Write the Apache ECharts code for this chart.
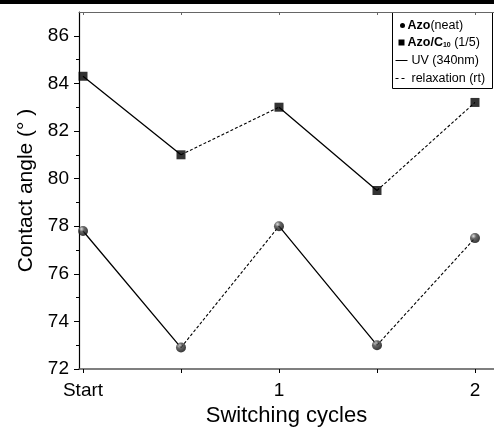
<!DOCTYPE html>
<html><head><meta charset="utf-8">
<script src="https://cdn.jsdelivr.net/npm/echarts@6/dist/echarts.min.js"></script>
<style>html,body{margin:0;padding:0;background:#fff}#c{width:494px;height:432px}</style>
</head><body><div id="c"></div>
<script>
const cycles = [0, 0.5, 1, 1.5, 2];
const xTickLabels = {0: 'Start', 1: '1', 2: '2'};
const azoNeat = [77.8, 72.9, 78.0, 73.0, 77.5];
const azoC10 = [84.3, 81.0, 83.0, 79.5, 83.2];
const yMajor = [72, 74, 76, 78, 80, 82, 84, 86];
const yMinor = [73, 75, 77, 79, 81, 83, 85];

function seg(vals, pairs) {
  const out = [];
  pairs.forEach((p, k) => {
    if (k > 0) out.push('-');
    out.push([cycles[p[0]], vals[p[0]]], [cycles[p[1]], vals[p[1]]]);
  });
  return out;
}
const solidPairs = [[0, 1], [2, 3]];
const dashPairs = [[1, 2], [3, 4]];

const font = 'Liberation Sans, Arial, sans-serif';
const sphere = {
  type: 'radial', x: 0.35, y: 0.3, r: 0.75,
  colorStops: [{offset: 0, color: '#d8d8d8'}, {offset: 0.35, color: '#444'}, {offset: 1, color: '#000'}]
};

const chart = echarts.init(document.getElementById('c'), null, {renderer: 'canvas'});
const lineStyleSolid = {color: '#000', width: 1.3, type: 'solid'};
const lineStyleDash = {color: '#000', width: 1.1, type: [3, 2]};

chart.setOption({
  animation: false,
  grid: {left: 79, top: 12, right: 0, bottom: 60},
  xAxis: [{
    type: 'value', min: -0.0204, max: 2.097,
    axisLine: {show: true, onZero: false, lineStyle: {color: '#555', width: 1.5}},
    axisTick: {show: true, inside: false, length: 4, customValues: cycles, lineStyle: {color: '#000'}},
    axisLabel: {show: true, customValues: [0, 1, 2], formatter: v => xTickLabels[Math.round(v)] || '',
      color: '#000', fontSize: 19, fontFamily: font, margin: 12},
    splitLine: {show: false},
    name: 'Switching cycles', nameLocation: 'middle', nameGap: 36,
    nameTextStyle: {color: '#000', fontSize: 22, fontFamily: font}
  }, {
    type: 'value', position: 'top', min: -0.0204, max: 2.097,
    axisLine: {show: true, onZero: false, lineStyle: {color: '#666', width: 1}},
    axisTick: {show: true, inside: true, length: 3, customValues: cycles, lineStyle: {color: '#666'}},
    axisLabel: {show: false}, splitLine: {show: false}
  }],
  yAxis: [{
    type: 'value', min: 72, max: 87,
    axisLine: {show: true, onZero: false, lineStyle: {color: '#000', width: 1.2}},
    axisTick: {show: true, length: 5, customValues: yMajor, lineStyle: {color: '#000'}},
    axisLabel: {show: true, customValues: yMajor, color: '#000', fontSize: 19, fontFamily: font, margin: 10},
    splitLine: {show: false},
    name: 'Contact angle (° )', nameLocation: 'middle', nameGap: 42,
    nameTextStyle: {color: '#000', fontSize: 21, fontFamily: font}
  }, {
    type: 'value', min: 72, max: 87, position: 'left',
    axisLine: {show: false, onZero: false},
    axisTick: {show: true, length: 3, customValues: yMinor, lineStyle: {color: '#000'}},
    axisLabel: {show: false}, splitLine: {show: false}
  }],
  series: [
    {type: 'line', data: seg(azoC10, solidPairs), showSymbol: false, symbol: 'none', lineStyle: lineStyleSolid, z: 2},
    {type: 'line', data: seg(azoC10, dashPairs), showSymbol: false, symbol: 'none', lineStyle: lineStyleDash, z: 2},
    {type: 'line', data: seg(azoNeat, solidPairs), showSymbol: false, symbol: 'none', lineStyle: lineStyleSolid, z: 2},
    {type: 'line', data: seg(azoNeat, dashPairs), showSymbol: false, symbol: 'none', lineStyle: lineStyleDash, z: 2},
    {type: 'scatter', data: cycles.map((c, i) => [c, azoC10[i]]), symbol: 'rect', symbolSize: 9,
      itemStyle: {color: '#000'}, z: 3},
    {type: 'scatter', data: cycles.map((c, i) => [c, azoNeat[i]]), symbol: 'circle', symbolSize: 10,
      itemStyle: {color: sphere}, z: 3}
  ],
  graphic: [
    {type: 'rect', left: 0, top: 0, shape: {width: 494, height: 4}, style: {fill: '#000'}, z: 10},
    {type: 'group', left: 392, top: 12, z: 10, children: [
      {type: 'rect', shape: {x: 0, y: 0, width: 100, height: 76}, style: {fill: '#fff', stroke: '#000', lineWidth: 1}},
      {type: 'circle', shape: {cx: 10, cy: 13, r: 2.5}, style: {fill: '#000'}},
      {type: 'text', x: 15, y: 13, style: {text: '{b|Azo}{n|(neat)}', verticalAlign: 'middle',
        rich: {b: {fontWeight: 'bold', fontSize: 12.5, fontFamily: font, fill: '#000'}, n: {fontSize: 12.5, fontFamily: font, fill: '#000'}}}},
      {type: 'rect', shape: {x: 6, y: 27, width: 6, height: 6}, style: {fill: '#000'}},
      {type: 'text', x: 15, y: 30, style: {text: '{b|Azo/C}{s|10}{n| (1/5)}', verticalAlign: 'middle',
        rich: {b: {fontWeight: 'bold', fontSize: 12.5, fontFamily: font, fill: '#000'},
          s: {fontWeight: 'bold', fontSize: 7, fontFamily: font, fill: '#000', verticalAlign: 'bottom', padding: [6, 0, 0, 0]},
          n: {fontSize: 12.5, fontFamily: font, fill: '#000'}}}},
      {type: 'line', shape: {x1: 3, y1: 48, x2: 15, y2: 48}, style: {stroke: '#000', lineWidth: 1}},
      {type: 'text', x: 19, y: 48, style: {text: 'UV (340nm)', verticalAlign: 'middle', fontSize: 12.5, fontFamily: font, fill: '#000'}},
      {type: 'line', shape: {x1: 3, y1: 66, x2: 15, y2: 66}, style: {stroke: '#000', lineWidth: 1, lineDash: [3, 3]}},
      {type: 'text', x: 19, y: 66, style: {text: 'relaxation (rt)', verticalAlign: 'middle', fontSize: 12.5, fontFamily: font, fill: '#000'}}
    ]}
  ]
});
</script></body></html>
